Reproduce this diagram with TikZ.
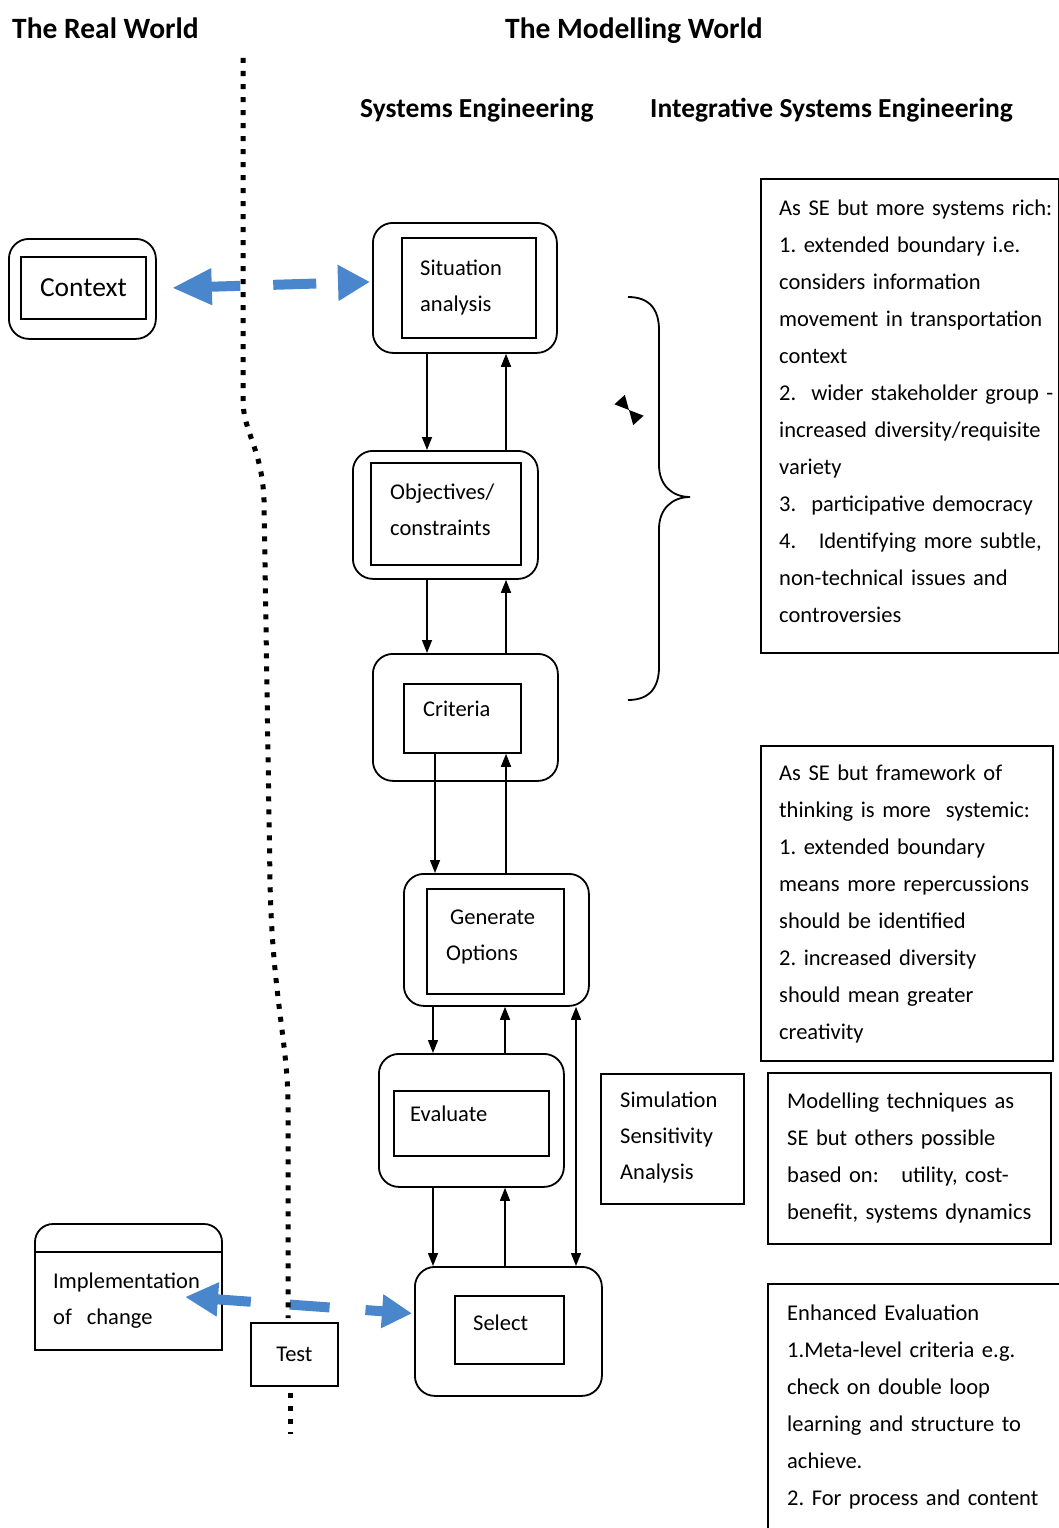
\documentclass[tikz,border=0pt]{standalone}
\usepackage{fontspec}
\setmainfont{Carlito}
\usetikzlibrary{arrows.meta,calc}
\definecolor{arrowblue}{RGB}{74,134,204}
\newcommand\mkbox[6]{\node[#1,anchor=north west,minimum width={#5pt-#3pt},minimum height={#6pt-#4pt},inner sep=0pt] (#2) at (#3,#4) {};}
\begin{document}
\frenchspacing
\begin{tikzpicture}[x=1pt,y=-1pt,
  outerbox/.style={draw, line width=1.8pt, rounded corners=20pt},
  innerbox/.style={draw, line width=1.8pt},
  panel/.style={draw, line width=1.8pt},
  ghost/.style={draw=none},
  hdr/.style={anchor=base west, inner sep=0pt, font=\fontsize{29.5}{32}\selectfont\bfseries},
  subhdr/.style={anchor=base west, inner sep=0pt, font=\fontsize{27.5}{30}\selectfont\bfseries},
  lbl/.style={anchor=base west, inner sep=0pt, text width=170pt, align=left, font=\fontsize{22.5}{36}\selectfont},
  ctr/.style={anchor=center, inner sep=0pt, font=\fontsize{22.5}{26}\selectfont},
  ctxfont/.style={anchor=center, inner sep=0pt, font=\fontsize{27.5}{30}\selectfont},
  paneltxt/.style={anchor=base west, inner sep=0pt, text width=320pt, align=left, font=\fontsize{22.5}{37}\selectfont},
  arr/.style={line width=1.4pt, -{Triangle[length=13pt,width=10pt]}},
  darr/.style={line width=1.4pt, {Triangle[length=13pt,width=10pt]}-{Triangle[length=13pt,width=10pt]}},
  bluearrA/.style={arrowblue, line width=10pt, {Triangle[length=40pt,width=34pt]}-{Triangle[length=32pt,width=34pt]}},
  bluearrB/.style={arrowblue, line width=10pt, {Triangle[length=33pt,width=32pt]}-{Triangle[length=30pt,width=32pt]}},
  dotline/.style={line width=5pt, dash pattern=on 5pt off 8pt}
]
\useasboundingbox (0,0) rectangle (1059,1528);

% headers
\node[hdr] (realw) at (12,38) {The Real World};
\node[hdr] (modw) at (505,38) {The Modelling World};
\node[subhdr] (seh) at (360,117) {Systems Engineering};
\node[subhdr] (iseh) at (650,117) {Integrative Systems Engineering};

% context
\mkbox{outerbox}{context}{8}{238}{155}{338}
\mkbox{innerbox}{contextin}{20}{256}{145}{318}
\node[ctxfont] (contexttxt) at (contextin.center) {Context};

% main column
\mkbox{outerbox}{sit}{372}{222}{556}{352}
\mkbox{innerbox}{sitin}{401}{237}{535}{337}
\node[lbl] (sittxt) at (420,275) {Situation\\analysis};

\mkbox{outerbox}{obj}{352}{450}{537}{578}
\mkbox{innerbox}{objin}{370}{462}{520}{564}
\node[lbl] (objtxt) at (390,499) {Objectives/\\constraints};

\mkbox{outerbox}{crit}{372}{653}{557}{780}
\mkbox{innerbox}{critin}{403}{683}{520}{752}
\node[lbl] (crittxt) at (423,716) {Criteria};

\mkbox{outerbox}{gen}{403}{873}{588}{1005}
\mkbox{innerbox}{genin}{426}{888}{563}{993}
\node[lbl] (gentxt) at (446,924) {\hspace*{4pt}Generate\\Options};

\mkbox{outerbox}{eval}{378}{1053}{563}{1186}
\mkbox{innerbox}{evalin}{393}{1090}{548}{1155}
\node[lbl] (evaltxt) at (410,1121) {Evaluate};

\mkbox{outerbox}{select}{414}{1266}{601}{1395}
\mkbox{innerbox}{selectin}{454}{1295}{563}{1363}
\node[lbl] (selecttxt) at (473,1330) {Select};

% column arrows
\coordinate (cA) at (427,0);
\coordinate (cB) at (506,0);
\coordinate (cC) at (435,0);
\coordinate (cD) at (433,0);
\coordinate (cE) at (505,0);
\coordinate (cF) at (576,0);
\draw[arr] (sit.south -| cA) -- (obj.north -| cA);
\draw[arr] (obj.north -| cB) -- (sit.south -| cB);
\draw[arr] (obj.south -| cA) -- (crit.north -| cA);
\draw[arr] (crit.north -| cB) -- (obj.south -| cB);
\draw[arr] (critin.south -| cC) -- (gen.north -| cC);
\draw[arr] (gen.north -| cB) -- (critin.south -| cB);
\draw[arr] (gen.south -| cD) -- (eval.north -| cD);
\draw[arr] (eval.north -| cE) -- (gen.south -| cE);
\draw[arr] (eval.south -| cD) -- (select.north -| cD);
\draw[arr] (select.north -| cE) -- (eval.south -| cE);
\draw[darr] (gen.south -| cF) -- (select.north -| cF);

% brace
\draw[line width=1.8pt] (628,297) .. controls (650,297) and (659,310) .. (659,330) -- (659,465)
  .. controls (659,485) and (672,497) .. (690,497)
  .. controls (672,497) and (659,509) .. (659,529) -- (659,667)
  .. controls (659,687) and (650,700) .. (628,700);

% small bow-tie mark
\fill (624.8,394.9) -- (614.4,404.3) -- (629,410) -- cycle;
\fill (643.6,415.7) -- (633.2,425.1) -- (629,410) -- cycle;

% right panels
\mkbox{panel}{panA}{760}{178}{1058}{652}
\node[paneltxt] (panAtxt) at (779,215) {As SE but more systems rich:\\
1. extended boundary i.e.\\
considers information\\
movement in transportation\\
context\\
2.~ wider stakeholder group -\\
increased diversity/requisite\\
variety\\
3.~ participative democracy\\
4.~~ Identifying more subtle,\\
non-technical issues and\\
controversies};

\mkbox{panel}{panB}{760}{745}{1052}{1060}
\node[paneltxt] (panBtxt) at (779,780) {As SE but framework of\\
thinking is more~ systemic:\\
1. extended boundary\\
means more repercussions\\
should be identified\\
2. increased diversity\\
should mean greater\\
creativity};

\mkbox{panel}{simbox}{600}{1073}{743}{1203}
\node[lbl] (simtxt) at (620,1107) {Simulation\\Sensitivity\\Analysis};

\mkbox{panel}{panC}{767}{1072}{1050}{1243}
\node[paneltxt] (panCtxt) at (787,1108) {Modelling techniques as\\
SE but others possible\\
based on:~~ utility, cost-\\
benefit, systems dynamics};

\begin{scope}
\clip (0,0) rectangle (1059,1528);
\mkbox{panel}{panD}{767}{1283}{1080}{1560}
\end{scope}
\node[paneltxt] (panDtxt) at (787,1320) {Enhanced Evaluation\\
1.Meta-level criteria e.g.\\
check on double loop\\
learning and structure to\\
achieve.\\
2. For process and content};

% implementation of change
\mkbox{ghost}{impl}{35}{1224}{222}{1350}
\draw[line width=1.8pt] (35,1350) -- (35,1242) arc[start angle=180,end angle=90,radius=18pt]
  -- (204,1224) arc[start angle=90,end angle=0,radius=18pt] -- (222,1350) -- cycle;
\draw[line width=1.8pt] (35,1252) -- (222,1252);
\node[lbl] (impltxt) at (53,1288) {Implementation\\of~ change};

% test
\mkbox{panel}{test}{250}{1322}{337}{1385}
\node[ctr] (testtxt) at (test.center) {Test};

% blue arrows
\draw[bluearrA, dash pattern=on 31pt off 33pt on 43pt off 200pt] ($(context.east)+(15,-1)$) -- ($(sit.west)+(-2,-6)$);
\coordinate (implTip) at (185,1297);
\draw[bluearrB, dash pattern=on 35pt off 39pt on 40pt off 36pt on 200pt] (implTip) -- ($(select.west)+(-2,-18)$);

% dotted boundary
\draw[dotline] (243,58) -- (243,400) .. controls (243,432) and (262,448) .. (264,500) -- (270,880)
  .. controls (272,990) and (287,1040) .. (288,1100) -- (288,1318);
\draw[dotline] (290,1393) -- (290,1434);
\end{tikzpicture}
\end{document}
